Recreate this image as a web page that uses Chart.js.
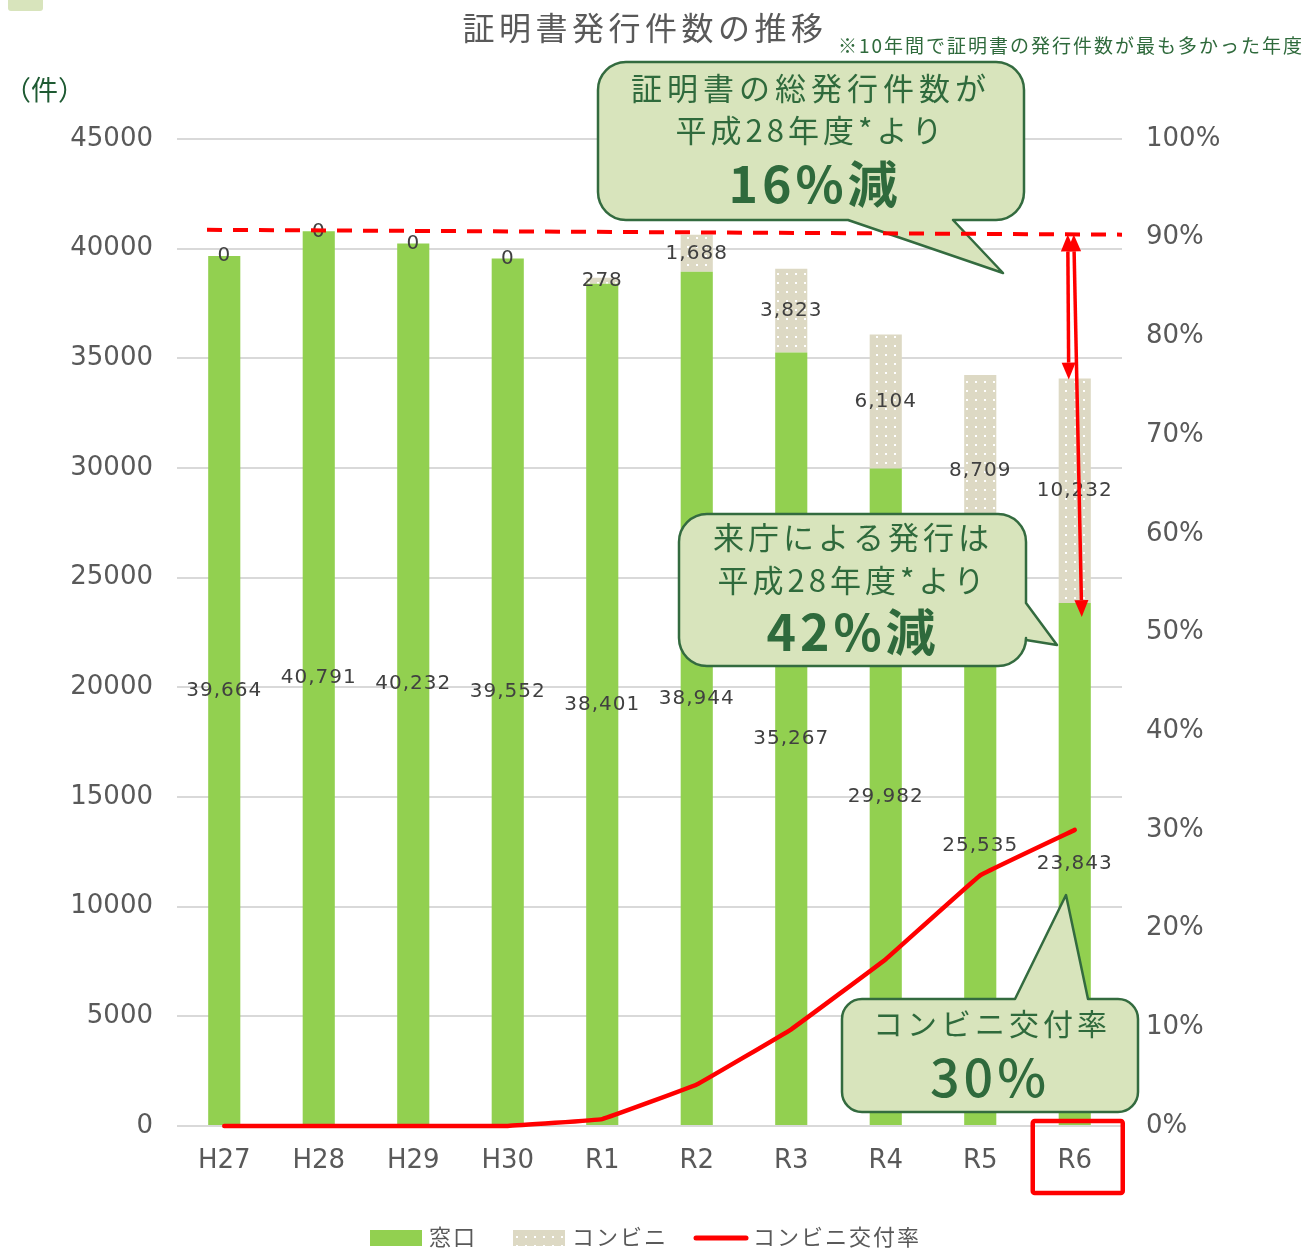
<!DOCTYPE html>
<html lang="ja">
<head>
<meta charset="UTF-8">
<title>証明書発行件数の推移</title>
<script src="https://cdn.jsdelivr.net/npm/chart.js"></script>
<style>
  body { margin: 0; background: #fff; }
  #wrap { width: 1304px; height: 1248px; }
</style>
</head>
<body>
<div id="wrap"><canvas id="chart" width="1304" height="1248"></canvas></div>
<script>
// data
const years = ['H27', 'H28', 'H29', 'H30', 'R1', 'R2', 'R3', 'R4', 'R5', 'R6'];
const madoguchi = [39664, 40791, 40232, 39552, 38401, 38944, 35267, 29982, 25535, 23843];
const konbini = [0, 0, 0, 0, 278, 1688, 3823, 6104, 8709, 10232];
const konbiniRate = [0, 0, 0, 0, 0.7, 4.2, 9.8, 16.9, 25.4, 30.0]; // %
const countMax = 45000, countStep = 5000;
const rateMax = 100, rateStep = 10;

const JP = '"Noto Sans CJK JP", "Noto Sans", sans-serif';
const NUM = '"DejaVu Sans", sans-serif';
const GREEN_TEXT = '#2f6a3c';
const GREY_TEXT = '#595959';

const ctx = document.getElementById('chart').getContext('2d');

// beige fill with small white dots (コンビニ)
function makeDots() {
    const c = document.createElement('canvas');
    c.width = 9; c.height = 9;
    const g = c.getContext('2d');
    g.fillStyle = '#ddd9c4';
    g.fillRect(0, 0, 9, 9);
    g.fillStyle = '#ffffff';
    g.fillRect(3, 3, 2, 2);
    return ctx.createPattern(c, 'repeat');
}
const dots = makeDots();

function text(c, str, x, y, font, color, spacing, align) {
    c.save();
    c.font = font;
    c.fillStyle = color;
    c.letterSpacing = (spacing || 0) + 'px';
    c.textAlign = align || 'center';
    c.textBaseline = 'middle';
    c.fillText(str, x, y);
    c.restore();
}

// rounded box with a pointed tail on one side
function bubble(c, x, y, w, h, r, t) {
    c.beginPath();
    c.moveTo(x + r, y);
    if (t.side === 'top') { c.lineTo(t.p1, y); c.lineTo(t.tx, t.ty); c.lineTo(t.p2, y); }
    c.lineTo(x + w - r, y);
    c.arcTo(x + w, y, x + w, y + r, r);
    if (t.side === 'right') { c.lineTo(x + w, t.p1); c.lineTo(t.tx, t.ty); c.lineTo(x + w, t.p2); }
    c.lineTo(x + w, y + h - r);
    c.arcTo(x + w, y + h, x + w - r, y + h, r);
    if (t.side === 'bottom') { c.lineTo(t.p2, y + h); c.lineTo(t.tx, t.ty); c.lineTo(t.p1, y + h); }
    c.lineTo(x + r, y + h);
    c.arcTo(x, y + h, x, y + h - r, r);
    c.lineTo(x, y + r);
    c.arcTo(x, y, x + r, y, r);
    c.closePath();
    c.fillStyle = '#d8e4bc';
    c.fill();
    c.lineWidth = 2.5;
    c.strokeStyle = '#336b3f';
    c.lineJoin = 'round';
    c.stroke();
}

function arrow(c, x1, y1, x2, y2) {
    const len = 17, half = 7;
    const a = Math.atan2(y2 - y1, x2 - x1);
    const ux = Math.cos(a), uy = Math.sin(a);
    c.beginPath();
    c.moveTo(x1 + ux * len, y1 + uy * len);
    c.lineTo(x2 - ux * len, y2 - uy * len);
    c.stroke();
    [[x1, y1, 1], [x2, y2, -1]].forEach(([px, py, s]) => {
        const bx = px + ux * len * s, by = py + uy * len * s;
        c.beginPath();
        c.moveTo(px, py);
        c.lineTo(bx - uy * half, by + ux * half);
        c.lineTo(bx + uy * half, by - ux * half);
        c.closePath();
        c.fill();
    });
}

const overlay = {
    id: 'overlay',
    afterDatasetsDraw(chart) {
        const c = chart.ctx;
        [0, 1].forEach(di => {
            const meta = chart.getDatasetMeta(di);
            meta.data.forEach((bar, i) => {
                const v = chart.data.datasets[di].data[i];
                text(c, v.toLocaleString('en-US'), bar.x, (bar.y + bar.base) / 2, '20px ' + NUM, '#404040', 1);
            });
        });
    },
    afterDraw(chart) {
        const c = chart.ctx;
        const ys = chart.scales.y;
        const xs = chart.scales.x;
        const last = years.length - 1;
        const xr = xs.getPixelForValue(last);

        // callouts
        bubble(c, 598, 62, 426, 158, 28, { side: 'bottom', p1: 848, p2: 953, tx: 1003, ty: 273 });
        text(c, '証明書の総発行件数が', 811, 88, '31px ' + JP, GREEN_TEXT, 5);
        text(c, '平成28年度*より', 811, 130, '31px ' + JP, GREEN_TEXT, 4);
        text(c, '16%減', 815, 184, 'bold 50px ' + JP, GREEN_TEXT, 4);

        bubble(c, 679, 514, 347, 152, 28, { side: 'right', p1: 603, p2: 640, tx: 1057, ty: 645 });
        text(c, '来庁による発行は', 853, 537, '31px ' + JP, GREEN_TEXT, 4);
        text(c, '平成28年度*より', 853, 580, '31px ' + JP, GREEN_TEXT, 4);
        text(c, '42%減', 853, 632, 'bold 50px ' + JP, GREEN_TEXT, 4);

        bubble(c, 842, 999, 296, 113, 20, { side: 'top', p1: 1015, p2: 1088, tx: 1066, ty: 895 });
        text(c, 'コンビニ交付率', 992, 1024, '30px ' + JP, GREEN_TEXT, 4);
        text(c, '30%', 990, 1077, '500 52px ' + JP, GREEN_TEXT, 4);

        // dashed reference line at the H28 level
        c.save();
        c.strokeStyle = '#ff0000';
        c.lineWidth = 4;
        c.setLineDash([15, 11]);
        c.beginPath();
        c.moveTo(207, ys.getPixelForValue(40860));
        c.lineTo(chart.chartArea.right, ys.getPixelForValue(40640));
        c.stroke();
        c.restore();

        // arrows on R6
        const topTotal = chart.getDatasetMeta(1).data[last].y;
        const topMado = chart.getDatasetMeta(0).data[last].y;
        const yTop = ys.getPixelForValue(40650);
        c.save();
        c.strokeStyle = '#ff0000';
        c.fillStyle = '#ff0000';
        c.lineWidth = 3.5;
        arrow(c, xr - 7, yTop, xr - 6, topTotal + 1);
        arrow(c, xr - 1, yTop, xr + 7, topMado + 14);
        // box round the R6 label
        c.lineWidth = 4.5;
        c.beginPath();
        c.roundRect(xr - 42, 1121, 90, 72, 2);
        c.stroke();
        c.restore();

        // titles
        c.save();
        c.fillStyle = '#d8e4bc';
        c.beginPath();
        c.roundRect(8, -4, 35, 15, 3);
        c.fill();
        c.restore();
        text(c, '証明書発行件数の推移', 645, 28, '32px ' + JP, GREY_TEXT, 4.5);
        text(c, '※10年間で証明書の発行件数が最も多かった年度', 838, 46, '19px ' + JP, GREEN_TEXT, 2, 'left');
        text(c, '（件）', 4, 90, '27px ' + JP, '#1e5a32', 0, 'left');

        // legend
        c.save();
        c.fillStyle = '#92d050';
        c.fillRect(370, 1230, 52, 16);
        c.fillStyle = dots;
        c.fillRect(513, 1230, 52, 16);
        c.strokeStyle = '#ff0000';
        c.lineWidth = 5;
        c.lineCap = 'round';
        c.beginPath();
        c.moveTo(696, 1238);
        c.lineTo(746, 1238);
        c.stroke();
        c.restore();
        text(c, '窓口', 429, 1237, '22px ' + JP, GREY_TEXT, 2, 'left');
        text(c, 'コンビニ', 572, 1237, '22px ' + JP, GREY_TEXT, 2, 'left');
        text(c, 'コンビニ交付率', 753, 1237, '22px ' + JP, GREY_TEXT, 2, 'left');
    }
};

new Chart(ctx, {
    type: 'bar',
    data: {
        labels: years,
        datasets: [{
            label: '窓口',
            data: madoguchi,
            backgroundColor: '#92d050',
            stack: 'total',
            order: 1,
            barPercentage: 0.34,
            categoryPercentage: 1
        }, {
            label: 'コンビニ',
            data: konbini,
            backgroundColor: dots,
            stack: 'total',
            order: 2,
            barPercentage: 0.34,
            categoryPercentage: 1
        }, {
            type: 'line',
            label: 'コンビニ交付率',
            data: konbiniRate,
            yAxisID: 'y1',
            borderColor: '#ff0000',
            borderWidth: 4.5,
            borderCapStyle: 'round',
            borderJoinStyle: 'round',
            pointRadius: 0,
            tension: 0.05,
            clip: false,
            order: 0
        }]
    },
    options: {
        responsive: false,
        animation: false,
        layout: { padding: { top: 139 } },
        plugins: {
            legend: { display: false },
            tooltip: { enabled: false }
        },
        scales: {
            x: {
                stacked: true,
                grid: { display: false },
                border: { display: false },
                ticks: { color: GREY_TEXT, font: { family: NUM, size: 26 }, padding: 12 },
                afterFit: s => { s.height = 122; }
            },
            y: {
                stacked: true,
                min: 0,
                max: countMax,
                grid: { color: '#d9d9d9', lineWidth: 2, drawTicks: false },
                border: { display: false },
                ticks: {
                    stepSize: countStep,
                    color: GREY_TEXT,
                    font: { family: NUM, size: 26 },
                    padding: 24,
                    callback: v => String(v)
                },
                afterFit: s => { s.width = 177; }
            },
            y1: {
                position: 'right',
                min: 0,
                max: rateMax,
                grid: { display: false, drawTicks: false },
                border: { display: false },
                ticks: {
                    stepSize: rateStep,
                    color: GREY_TEXT,
                    font: { family: NUM, size: 26 },
                    padding: 24,
                    callback: v => v + '%'
                },
                afterFit: s => { s.width = 182; }
            }
        }
    },
    plugins: [overlay]
});
</script>
</body>
</html>
